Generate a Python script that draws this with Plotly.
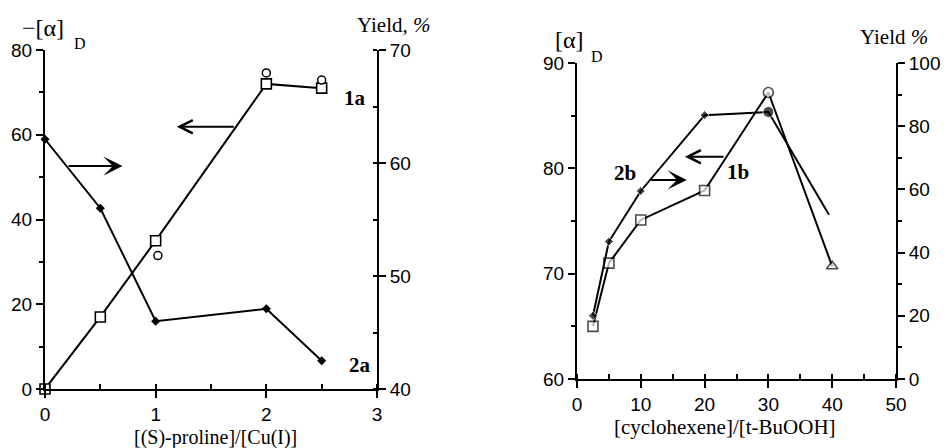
import plotly.graph_objects as go

W, H = 948, 448

# ---------------- data ----------------
# Left panel: [(S)-proline]/[Cu(I)]
ratio_x = [0, 0.5, 1, 2, 2.5]
alpha_1a = [0, 17, 35, 72, 71]            # -[alpha]D, left axis (open squares)
yield_2a = [62.1, 56.0, 46.0, 47.1, 42.5]  # Yield %, right axis (filled diamonds)
ratio_x_circ = [1.02, 2, 2.5]
alpha_1a_circ = [31.5, 74.6, 72.9]         # extra open circles

# Right panel: [cyclohexene]/[t-BuOOH]
conc_x_1b = [2.5, 5, 10, 20, 30, 40]
alpha_1b = [65, 71, 75.1, 77.9, 87.2, 70.7]   # [alpha]D, left axis
conc_x_2b = [2.5, 5, 10, 20, 30, 39.5]
yield_2b = [20, 43.5, 59.5, 83.5, 84.5, 52]   # Yield %, right axis

left_xticks = [0, 1, 2, 3]
left_yticks = [0, 20, 40, 60, 80]
left_y2ticks = [40, 50, 60, 70]
right_xticks = [0, 10, 20, 30, 40, 50]
right_yticks = [60, 70, 80, 90]
right_y2ticks = [0, 20, 40, 60, 80, 100]

# ---------------- helpers ----------------
def fx(px):
    return px / W

def fy(py):
    return 1 - py / H

TICKFONT = dict(family="Liberation Sans, Arial, sans-serif", size=19, color="black")
SERIF = "Liberation Serif, Times New Roman, serif"
LINE = dict(color="black", width=2)
OPEN_LINE = dict(width=1.6, color="black")

fig = go.Figure()

# Left panel traces
fig.add_trace(go.Scatter(x=ratio_x, y=alpha_1a, mode="lines+markers", xaxis="x", yaxis="y",
                         line=LINE, cliponaxis=False,
                         marker=dict(symbol="square", size=10, color="white", line=OPEN_LINE)))
fig.add_trace(go.Scatter(x=ratio_x_circ, y=alpha_1a_circ, mode="markers", xaxis="x", yaxis="y",
                         cliponaxis=False,
                         marker=dict(symbol="circle", size=8, color="white", line=dict(width=1.5, color="black"))))
fig.add_trace(go.Scatter(x=ratio_x, y=yield_2a, mode="lines+markers", xaxis="x", yaxis="y2",
                         line=LINE, cliponaxis=False,
                         marker=dict(symbol="diamond", size=7, color="black")))

# Right panel traces
fig.add_trace(go.Scatter(x=conc_x_2b, y=yield_2b, mode="lines+markers", xaxis="x2", yaxis="y4",
                         line=LINE, cliponaxis=False,
                         marker=dict(symbol=["diamond"] * 4 + ["circle", "circle"],
                                     size=[7, 7, 7, 7, 11, 0], color="black")))
fig.add_trace(go.Scatter(x=conc_x_1b, y=alpha_1b, mode="lines+markers", xaxis="x2", yaxis="y3",
                         line=LINE, cliponaxis=False,
                         marker=dict(symbol=["square"] * 4 + ["circle", "triangle-up"],
                                     size=[10, 10, 10, 10, 10, 10], color="white", line=OPEN_LINE)))

axis_common = dict(showline=True, linecolor="black", linewidth=2, showgrid=False, zeroline=False,
                   ticks="outside", ticklen=7, tickwidth=2, tickcolor="black", tickfont=TICKFONT,
                   automargin=False)

fig.update_layout(
    width=W, height=H,
    margin=dict(l=0, r=0, t=0, b=0),
    paper_bgcolor="white", plot_bgcolor="white",
    showlegend=False,
    xaxis=dict(domain=[fx(45), fx(377)], range=[0, 3], anchor="y", tickvals=left_xticks,
               minor=dict(dtick=0.5, tick0=0, ticks="inside", ticklen=5, tickwidth=1.5, tickcolor="black"),
               **axis_common),
    yaxis=dict(domain=[fy(389), fy(50)], range=[0, 80], anchor="x", tickvals=left_yticks,
               minor=dict(dtick=10, tick0=0, ticks="outside", ticklen=4, tickwidth=1.5, tickcolor="black"),
               **axis_common),
    yaxis2=dict(overlaying="y", side="right", anchor="x", range=[40, 70], tickvals=left_y2ticks,
                minor=dict(dtick=5, tick0=40, ticks="inside", ticklen=4, tickwidth=1.5, tickcolor="black"),
                **axis_common),
    xaxis2=dict(domain=[fx(577), fx(896)], range=[0, 50], anchor="y3", tickvals=right_xticks,
                minor=dict(dtick=5, tick0=0, ticks="inside", ticklen=5, tickwidth=1.5, tickcolor="black"),
                **axis_common),
    yaxis3=dict(domain=[fy(379), fy(63)], range=[60, 90], anchor="x2", tickvals=right_yticks,
                minor=dict(dtick=5, tick0=60, ticks="outside", ticklen=4, tickwidth=1.5, tickcolor="black"),
                **axis_common),
    yaxis4=dict(overlaying="y3", side="right", anchor="x2", range=[0, 100], tickvals=right_y2ticks,
                minor=dict(dtick=10, tick0=0, ticks="outside", ticklen=4, tickwidth=1.5, tickcolor="black"),
                **axis_common),
)

def text(px, py, s, size, bold=False, family=SERIF):
    fig.add_annotation(x=fx(px), y=fy(py), xref="paper", yref="paper", text=s, showarrow=False,
                       xanchor="center", yanchor="middle",
                       font=dict(family=family, size=size, color="black",
                                 weight="bold" if bold else "normal"))

# axis titles
text(43, 28, "−[α]", 24)
text(80, 44, "D", 16)
text(394, 25, "Yield, <i>%</i>", 21)
text(215, 437, "[(S)-proline]/[Cu(I)]", 20)

text(569, 40, "[α]", 24)
text(597, 57, "D", 16)
text(894, 37, "Yield <i>%</i>", 21)
text(725, 427, "[cyclohexene]/[t-BuOOH]", 21)

# series labels
text(355, 98, "1a", 21, bold=True)
text(360, 365, "2a", 21, bold=True)
text(625, 173, "2b", 21, bold=True)
text(738, 172, "1b", 21, bold=True)

# arrows (data coordinates)
def arrow(xref, yref, x_tail, x_head, yv, head, size):
    fig.add_annotation(x=x_head, y=yv, ax=x_tail, ay=yv, xref=xref, yref=yref, axref=xref, ayref=yref,
                       text="", showarrow=True, arrowhead=head, arrowsize=size, arrowwidth=2,
                       arrowcolor="black")

arrow("x", "y", 0.20, 0.70, 52.6, 3, 1.6)
arrow("x", "y", 1.72, 1.19, 61.9, 5, 1.3)
arrow("x2", "y3", 11.4, 17.2, 78.9, 3, 1.6)
arrow("x2", "y3", 23.2, 16.9, 81.1, 5, 1.3)

fig.write_html("out.html", config={"displayModeBar": False},
               post_script="document.body.style.margin='0';document.body.style.overflow='hidden';")
